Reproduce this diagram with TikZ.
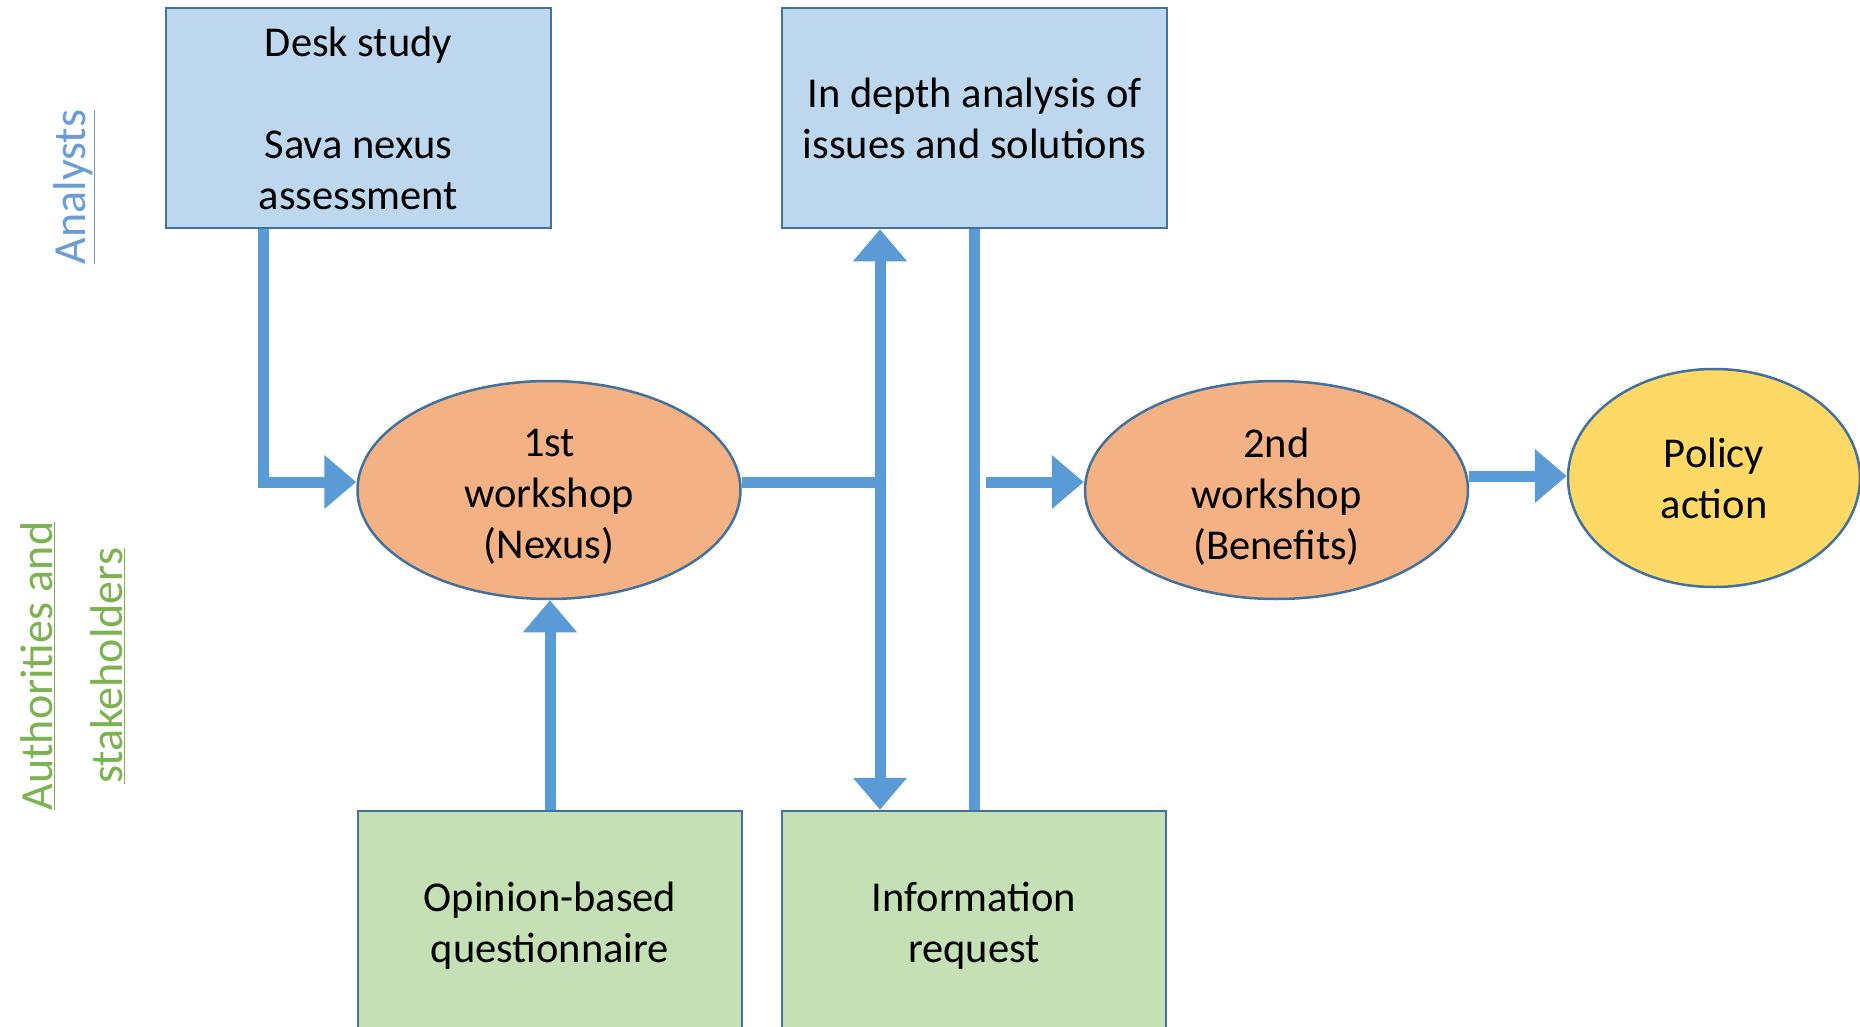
\documentclass[tikz,border=0pt]{standalone}
\usepackage{fontspec}
\setmainfont{Carlito}
\usetikzlibrary{shapes.geometric,arrows.meta}
\definecolor{bluefill}{HTML}{BDD7EE}
\definecolor{greenfill}{HTML}{C5E0B4}
\definecolor{orangefill}{HTML}{F4B183}
\definecolor{yellowfill}{HTML}{FFD966}
\definecolor{arrowc}{HTML}{5B9BD5}
\definecolor{edgec}{HTML}{41719C}
\definecolor{analystc}{RGB}{106,157,214}
\definecolor{stakec}{RGB}{124,178,79}
\newcommand\mainsz{\fontsize{42.5}{51}\selectfont}
\begin{document}
\begin{tikzpicture}[x=1pt,y=-1pt,
  >={Triangle[width=52pt,length=32pt]},
  conn/.style={line width=11pt,draw=arrowc},
  rbox/.style={rectangle,draw=edgec,line width=2.5pt,minimum width=385pt,minimum height=220pt,inner sep=0pt,align=center,font=\mainsz},
  ell/.style={ellipse,draw=edgec,line width=2.5pt,inner sep=0pt,align=center,font=\mainsz,minimum height=218pt}]
\useasboundingbox (0,0) rectangle (1860,1027);
\fill[white] (0,0) rectangle (1860,1027);
\clip (0,0) rectangle (1860,1027);

% side labels
\node[rotate=90,text=analystc,font=\fontsize{46}{56}\selectfont] (lab1) at (74,187) {\underline{Analysts}};
\node[rotate=90,text=stakec,align=center,font=\fontsize{46}{70}\selectfont] (lab2) at (73,666) {\underline{Authorities and}\\\underline{stakeholders}};

% boxes
\node[rbox,fill=bluefill] (desk) at (358.5,118) {Desk study\\[51pt]Sava nexus\\assessment};
\node[rbox,fill=bluefill] (an) at (974.5,118) {In depth analysis of\\issues and solutions};
\node[rbox,fill=greenfill,minimum width=384pt,minimum height=230pt] (op) at (550,926) {Opinion-based\\questionnaire};
\node[rbox,fill=greenfill,minimum width=384pt,minimum height=230pt] (info) at (974,926) {Information\\request};

% ellipses
\node[ell,fill=orangefill,minimum width=383pt] (e1) at (549,490) {\rule{0pt}{40pt}1st\\workshop\\(Nexus)};
\node[ell,fill=orangefill,minimum width=383pt] (e2) at (1276.5,490) {\rule{0pt}{42pt}2nd\\workshop\\(Benefits)};
\node[ell,fill=yellowfill,minimum width=292pt] (pol) at (1714,478) {Policy\\action};

% helper coordinates
\coordinate (dx) at (263,0);
\coordinate (ya) at (0,482);
\coordinate (yb) at (0,476);
\coordinate (jx) at (880,0);
\coordinate (kx) at (974,0);
\coordinate (s2) at (986,482);

% connectors
\draw[conn,->] (desk.south -| dx) |- (e1.west |- ya);
\draw[conn,->] (op.north) -- (op.north |- e1.south);
\draw[conn] (e1.east |- ya) -- (jx |- ya);
\draw[conn,<->] (an.south -| jx) -- (info.north -| jx);
\draw[conn] (an.south -| kx) -- (info.north -| kx);
\draw[conn,->] (s2) -- (e2.west |- s2);
\draw[conn,->] (e2.east |- yb) -- (pol.west |- yb);
\end{tikzpicture}
\end{document}
